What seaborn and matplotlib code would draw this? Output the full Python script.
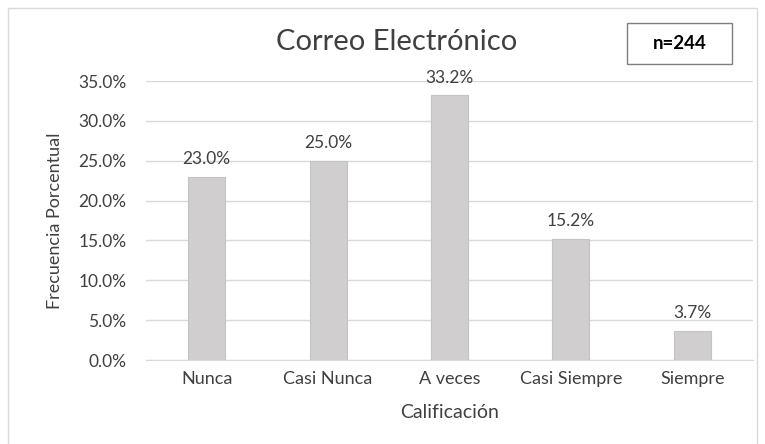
import numpy as np
import pandas as pd
import matplotlib
matplotlib.use("Agg")
import matplotlib.pyplot as plt
import seaborn as sns
from matplotlib.patches import Rectangle

categorias = ["Nunca", "Casi Nunca", "A veces", "Casi Siempre", "Siempre"]
porcentajes = [23.0, 25.0, 33.2, 15.2, 3.7]
ticks_y = [0, 5, 10, 15, 20, 25, 30, 35]

df = pd.DataFrame({"Calificación": categorias, "Frecuencia": porcentajes})

sns.set_style("white")
plt.rcParams["font.family"] = ["Lato", "DejaVu Sans"]

fig = plt.figure(figsize=(7.65, 4.44), dpi=100)
# plot area: x 146..753 px, y 81..360 px
ax = fig.add_axes([146 / 765, 1 - 360 / 444, 607 / 765, 279 / 444])

sns.barplot(data=df, x="Calificación", y="Frecuencia", color="#D0CECE",
            width=0.305, saturation=1, ax=ax, zorder=3,
            edgecolor="#C4C2C2", linewidth=0.8)

ax.set_ylim(0, 35)
ax.set_yticks(ticks_y)
ax.set_yticklabels([f"{t:.1f}%" for t in ticks_y], fontsize=12.5, color="#404040")
ax.tick_params(axis="x", labelsize=13, colors="#404040", length=0, pad=8)
ax.tick_params(axis="y", length=0, pad=14)
ax.grid(axis="y", color="#D9D9D9", linewidth=1, zorder=0)
for s in ["top", "right", "left"]:
    ax.spines[s].set_visible(False)
ax.spines["bottom"].set_color("#D9D9D9")

for p, v in zip(ax.patches, porcentajes):
    ax.annotate(f"{v:.1f}%", (p.get_x() + p.get_width() / 2, p.get_height()),
                xytext=(0, 7), textcoords="offset points", ha="center",
                va="bottom", fontsize=12.5, color="#404040")

ax.set_xlabel("Calificación", fontsize=14, color="#404040")
ax.xaxis.set_label_coords(0.5, (360 - 412) / 279)
ax.xaxis.label.set_va("center")
ax.set_ylabel("Frecuencia Porcentual", fontsize=13, color="#404040")
ax.yaxis.set_label_coords((55 - 146) / 607, 0.5)
ax.yaxis.label.set_va("center")

fig.text(397 / 765, 1 - 42 / 444, "Correo Electrónico", ha="center", va="center",
         fontsize=21, color="#404040")

fig.patches.append(Rectangle((627 / 765, 1 - 64 / 444), 105 / 765, 41 / 444,
                             transform=fig.transFigure, fill=False,
                             edgecolor="#7F7F7F", linewidth=1))
fig.text(679.5 / 765, 1 - 43.5 / 444, "n=244", ha="center", va="center",
         fontsize=13.5, color="black", fontweight="bold")

fig.patches.append(Rectangle((8 / 765, -0.01), 749 / 765, 1 - 8 / 444 + 0.01,
                             transform=fig.transFigure, fill=False,
                             edgecolor="#D9D9D9", linewidth=1))

fig.savefig("out.png", dpi=100)
